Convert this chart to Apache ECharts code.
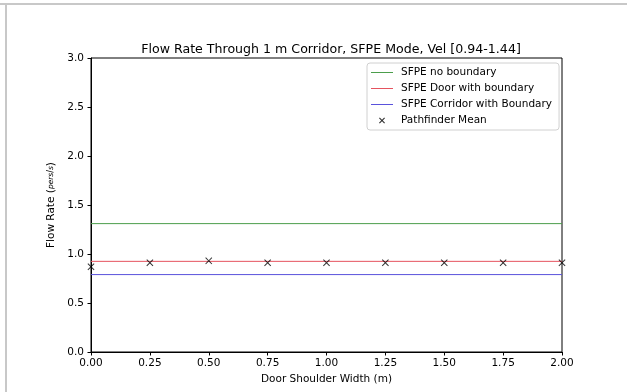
<!DOCTYPE html>
<html>
<head>
<meta charset="utf-8">
<script src="https://cdn.jsdelivr.net/npm/echarts@6/dist/echarts.min.js"></script>
<style>html,body{margin:0;padding:0;background:#fff}#c{width:627px;height:392px}</style>
</head>
<body>
<div id="c"></div>
<script>
var shoulderWidths = [0.00, 0.25, 0.50, 0.75, 1.00, 1.25, 1.50, 1.75, 2.00];
var pathfinderMean = [0.87, 0.91, 0.93, 0.91, 0.91, 0.91, 0.91, 0.91, 0.91];
var sfpeNoBoundary = 1.31;
var sfpeDoorBoundary = 0.925;
var sfpeCorridorBoundary = 0.79;
var seriesNames = ['SFPE no boundary', 'SFPE Door with boundary', 'SFPE Corridor with Boundary', 'Pathfinder Mean'];
var xTicks = ['0.00', '0.25', '0.50', '0.75', '1.00', '1.25', '1.50', '1.75', '2.00'];

var xMin = 0, xMax = 2;
function flat(v) { return [[xMin, v], [xMax, v]]; }
var X = 'path://M0,1L1,0L5,4L9,0L10,1L6,5L10,9L9,10L5,6L1,10L0,9L4,5Z';
var a = 0.8;
var XLEG = 'path://M0,0L0.01,0L0,0.01Z M22,10L21.99,10L22,9.99Z ' +
  'M8,' + (2 + a) + 'L' + (8 + a) + ',2L11,' + (5 - a) + 'L' + (14 - a) + ',2L14,' + (2 + a) +
  'L' + (11 + a) + ',5L14,' + (8 - a) + 'L' + (14 - a) + ',8L11,' + (5 + a) + 'L' + (8 + a) + ',8L8,' + (8 - a) +
  'L' + (11 - a) + ',5Z';
var FONT = 'DejaVu Sans';

var chart = echarts.init(document.getElementById('c'));
chart.setOption({
  animation: false,
  textStyle: { fontFamily: FONT },
  title: {
    text: 'Flow Rate Through 1 m Corridor, SFPE Mode, Vel [0.94-1.44]',
    left: 326, top: 38, textAlign: 'center',
    textStyle: { fontFamily: FONT, fontSize: 12.6, fontWeight: 'normal', color: '#000' }
  },
  graphic: [
    { type: 'line', shape: { x1: 0, y1: 4, x2: 627, y2: 4 }, style: { stroke: '#c8c8c8', lineWidth: 2 } },
    { type: 'line', shape: { x1: 6, y1: 4, x2: 6, y2: 392 }, style: { stroke: '#c8c8c8', lineWidth: 2 } }
  ],
  grid: { left: 91, top: 58, width: 471, height: 294, show: true, borderColor: '#000', borderWidth: 1, backgroundColor: 'transparent' },
  legend: {
    orient: 'vertical', left: 367, top: 63,
    padding: [4, 7, 4, 4],
    itemGap: 5,
    itemWidth: 22, itemHeight: 10.5,
    backgroundColor: '#fff', borderColor: '#d0d0d0', borderWidth: 1, borderRadius: 3,
    textStyle: { fontFamily: FONT, fontSize: 10.5, color: '#000', padding: [0, 0, 0, 3] },
    data: [
      { name: seriesNames[0], icon: 'path://M0,0H22V1H0Z' },
      { name: seriesNames[1], icon: 'path://M0,0H22V1H0Z' },
      { name: seriesNames[2], icon: 'path://M0,0H22V1H0Z' },
      { name: seriesNames[3], icon: XLEG }
    ]
  },
  xAxis: {
    type: 'value', min: xMin, max: xMax, interval: 0.25,
    name: 'Door Shoulder Width (m)', nameLocation: 'middle', nameGap: 20,
    nameTextStyle: { fontFamily: FONT, fontSize: 10.5, color: '#000' },
    axisLine: { show: true, lineStyle: { color: '#000', width: 1 } },
    axisTick: { show: true, inside: false, length: 3.5, lineStyle: { color: '#000' } },
    axisLabel: { fontFamily: FONT, fontSize: 10.5, color: '#000', margin: 6, formatter: function (v) { return v.toFixed(2); } },
    splitLine: { show: false }
  },
  yAxis: {
    type: 'value', min: 0, max: 3, interval: 0.5,
    name: 'Flow Rate ({f|pers}{s|/}{f|s})', nameLocation: 'middle', nameGap: 33, nameRotate: 90,
    nameTextStyle: { fontFamily: FONT, fontSize: 10.5, color: '#000',
      rich: { f: { fontFamily: FONT, fontSize: 7.5, fontStyle: 'italic', color: '#000' }, s: { fontFamily: FONT, fontSize: 8, color: '#000' } } },
    axisLine: { show: true, lineStyle: { color: '#000', width: 1 } },
    axisTick: { show: true, inside: false, length: 3.5, lineStyle: { color: '#000' } },
    axisLabel: { fontFamily: FONT, fontSize: 10.5, color: '#000', margin: 7, formatter: function (v) { return v.toFixed(1); } },
    splitLine: { show: false }
  },
  series: [
    { name: seriesNames[0], type: 'line', data: flat(sfpeNoBoundary), symbol: 'none', lineStyle: { color: '#4c9e4c', width: 1 }, itemStyle: { color: '#4c9e4c' } },
    { name: seriesNames[1], type: 'line', data: flat(sfpeDoorBoundary), symbol: 'none', lineStyle: { color: '#e5535f', width: 1 }, itemStyle: { color: '#e5535f' } },
    { name: seriesNames[2], type: 'line', data: flat(sfpeCorridorBoundary), symbol: 'none', lineStyle: { color: '#5a52dc', width: 1 }, itemStyle: { color: '#5a52dc' } },
    { name: seriesNames[3], type: 'scatter', symbol: X, symbolSize: 7, itemStyle: { color: '#000' },
      data: shoulderWidths.map(function (x, i) { return [x, pathfinderMean[i]]; }), clip: false, z: 5 }
  ]
});
</script>
</body>
</html>
